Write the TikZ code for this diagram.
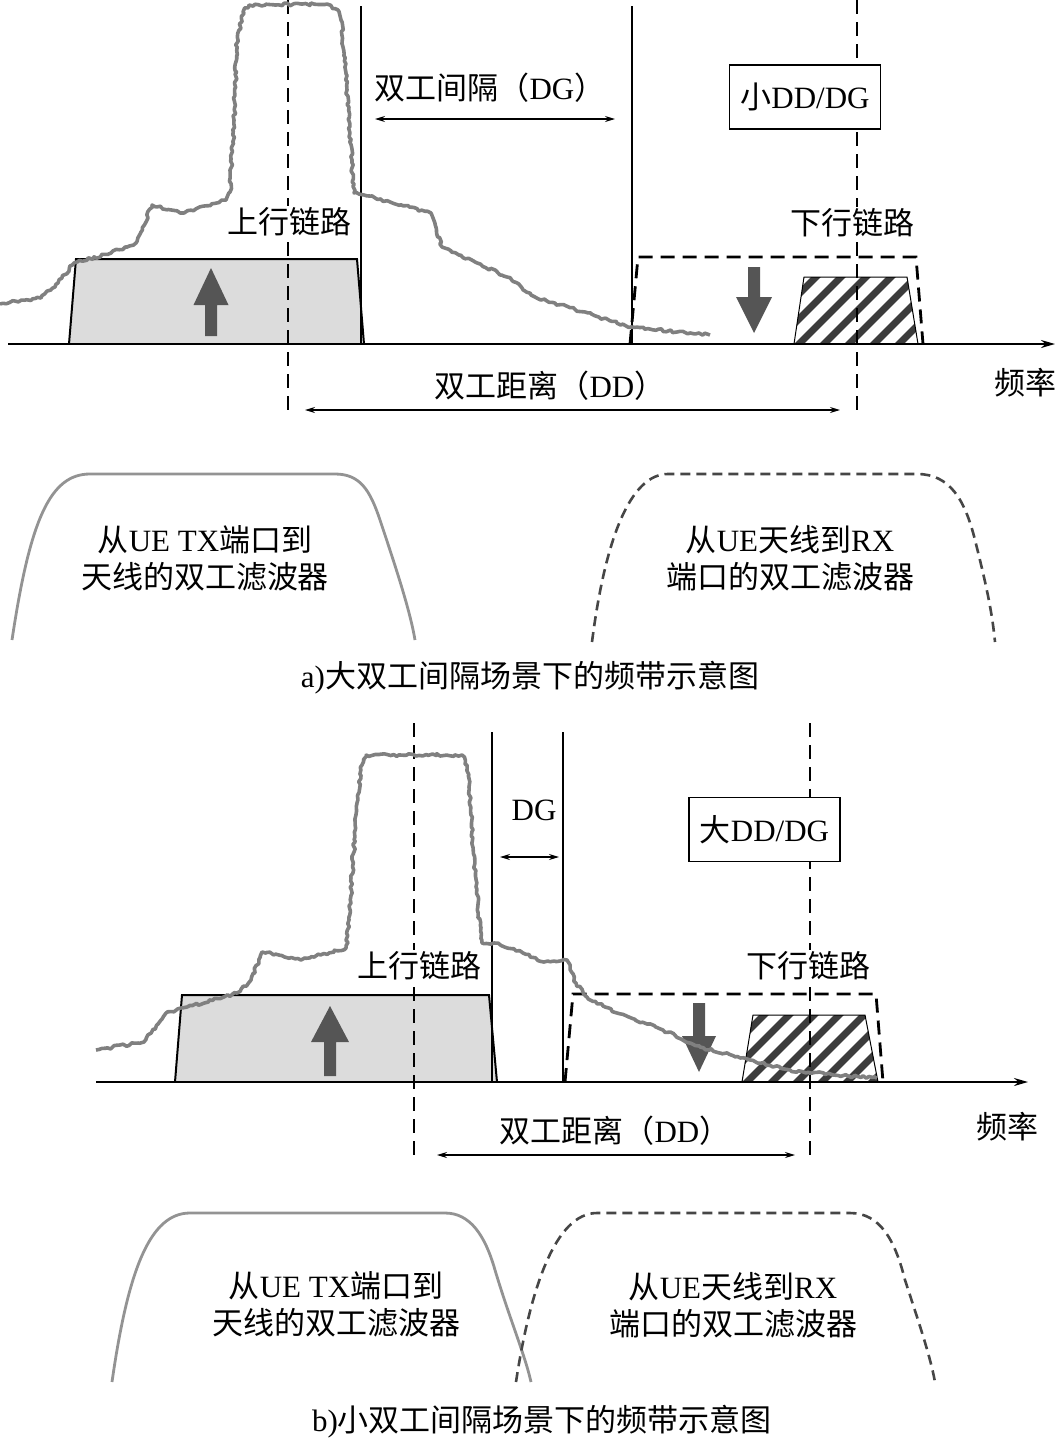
\documentclass[tikz,border=0pt]{standalone}
\usepackage{fontspec}
\setmainfont{Liberation Serif}
\newfontfamily\cjk{Noto Sans CJK SC}
\usetikzlibrary{arrows.meta,decorations.pathmorphing}
\definecolor{specgray}{RGB}{128,128,128}
\definecolor{bandgray}{RGB}{220,220,220}
\definecolor{fatgray}{RGB}{85,85,85}
\definecolor{hatchgray}{RGB}{60,60,60}
\definecolor{rxgray}{RGB}{70,70,70}

\begin{document}
\begin{tikzpicture}[x=0.5pt, y=-0.5pt,
    axis/.style={line width=1pt, -{Stealth[length=7pt, width=4pt]}},
    span/.style={line width=0.6pt, {Stealth[length=5pt, width=3pt]}-{Stealth[length=5pt, width=3pt]}},
    edgeln/.style={line width=1pt},
    centerln/.style={line width=1.2pt, dash pattern=on 7pt off 4pt},
    dlband/.style={line width=1.4pt, dash pattern=on 7pt off 4pt},
    spec/.style={specgray, line width=1.8pt, line join=round, decorate,
        decoration={random steps, segment length=1.5pt, amplitude=0.7pt}},
    txfilt/.style={specgray!85, line width=1.4pt},
    rxfilt/.style={rxgray, line width=1.3pt, dash pattern=on 5pt off 3pt},
    lbl/.style={font=\fontsize{15.5}{18.5}\selectfont, inner sep=1pt},
    cutlbl/.style={lbl, fill=white},
    ratiobox/.style={lbl, draw, line width=0.8pt, fill=white, minimum width=75.5pt, minimum height=32pt}
]
\pgfmathsetseed{7}
\useasboundingbox (0,0) rectangle (1057,1441);

% === Macro: banda rayada (enlace descendente) ===
% #1=x inf. izq., #2=x sup. izq., #3=x sup. der., #4=x inf. der., #5=y sup., #6=y base
\newcommand{\hatchband}[6]{%
    \begin{scope}
        \clip (#1,#6) -- (#2,#5) -- (#3,#5) -- (#4,#6) -- cycle;
        \foreach \k in {-4,...,6}
            \draw[hatchgray, line width=3.5pt] ({#1+\k*25},{#6+5}) -- ++(90,-90);
    \end{scope}
    \draw[line width=0.5pt] (#1,#6) -- (#2,#5) -- (#3,#5) -- (#4,#6);
}
% === Macro: flecha gruesa ===
% #1=x centro, #2=y cola, #3=y base punta, #4=y punta, #5=semi-ancho cuerpo, #6=semi-ancho punta
\newcommand{\fatarrow}[6]{%
    \fill[fatgray] ({#1-#5},#2) -- ({#1-#5},#3) -- ({#1-#6},#3) -- (#1,#4)
        -- ({#1+#6},#3) -- ({#1+#5},#3) -- ({#1+#5},#2) -- cycle;
}

% ================= a) =================
% --- bandas ---
\filldraw[fill=bandgray, line width=1pt] (69,344) -- (76,259) -- (357,259) -- (364,344);
\hatchband{794}{804}{907}{918}{277}{344}
\draw[dlband] (630,344) -- (638,257) -- (916,257) -- (923,344);
\fatarrow{211}{336}{305}{268}{6}{17.5}
\fatarrow{754}{267}{297}{333}{6}{18}

% --- lineas de referencia ---
\draw[centerln] (288,0) -- (288,410);
\draw[centerln] (857,0) -- (857,415);
\draw[edgeln] (361,6) -- (361,344);
\draw[edgeln] (632,6) -- (632,344);

% --- espectro ---
\draw[spec] (0,304) -- (41,298) -- (58,283) -- (74,263) -- (111,253) -- (136,243)
    -- (152,205) -- (184,213) -- (226,200) -- (230,192) -- (234,120) -- (237,43)
    -- (243,12) -- (249,5) -- (327,4) -- (338,10) -- (341,20) -- (347,90)
    -- (350,133) -- (354,193) -- (364,195) -- (431,213) -- (442,247) -- (507,277)
    -- (535,297) -- (631,327) -- (710,335);

\draw[axis] (8,344) -- (1055,344);
\node[lbl] (freqa) at (1025,383) {{\cjk 频率}};

% --- textos ---
\node[cutlbl] (ula) at (289,222) {{\cjk 上行链路}};
\node[cutlbl] (dla) at (852,223) {{\cjk 下行链路}};
\node[ratiobox] (boxa) at (805,97) {{\cjk 小}DD/DG};
\node[lbl] (dga) at (490,88) {{\cjk 双工间隔（}DG{\cjk ）}};
\coordinate (dga1) at (375,119);
\coordinate (dga2) at (615,119);
\draw[span] (dga1) -- (dga2);
\node[lbl] (dda) at (550,386) {{\cjk 双工距离（}DD{\cjk ）}};
\coordinate (dda1) at (305,410);
\coordinate (dda2) at (840,410);
\draw[span] (dda1) -- (dda2);

% --- filtros duplex ---
\draw[txfilt] (12,640) .. controls (30,520) and (50,474) .. (90,474) -- (335,474)
    .. controls (360,474) and (370,490) .. (380,520) .. controls (395,565) and (410,610) .. (415,640);
\draw[rxfilt] (592,642) .. controls (605,540) and (630,474) .. (668,474) -- (917,474)
    .. controls (950,474) and (965,500) .. (975,540) .. controls (985,580) and (992,610) .. (995,642);
\node[lbl, align=center] (txa) at (205,558) {{\cjk 从}UE TX{\cjk 端口到}\\{\cjk 天线的双工滤波器}};
\node[lbl, align=center] (rxa) at (790,558) {{\cjk 从}UE{\cjk 天线到}RX\\{\cjk 端口的双工滤波器}};
\node[lbl] (capa) at (530,678) {a){\cjk 大双工间隔场景下的频带示意图}};

% ================= b) =================
% --- bandas ---
\filldraw[fill=bandgray, line width=1pt] (175,1082) -- (182,995) -- (489,995) -- (497,1082);
\hatchband{742}{753}{865}{878}{1015}{1082}
\draw[dlband] (565,1082) -- (573,994) -- (876,994) -- (883,1082);
\fatarrow{330}{1076}{1042}{1006}{6}{19}
\fatarrow{699}{1003}{1036}{1072}{6}{17}

% --- lineas de referencia ---
\draw[centerln] (414,723) -- (414,1155);
\draw[centerln] (810,723) -- (810,1155);
\draw[edgeln] (492,732) -- (492,1082);
\draw[edgeln] (563,732) -- (563,1082);

% --- espectro ---
\draw[spec] (96,1050) -- (144,1042) -- (166,1013) -- (187,1007) -- (237,993)
    -- (251,980) -- (262,952) -- (301,960) -- (346,948) -- (349,920) -- (357,803)
    -- (362,765) -- (366,755) -- (462,755) -- (467,765) -- (469,787) -- (476,887)
    -- (482,943) -- (494,943) -- (523,953) -- (544,962) -- (567,960) -- (576,983)
    -- (587,997) -- (617,1013) -- (663,1030) -- (700,1047) -- (750,1060)
    -- (790,1070) -- (833,1075) -- (877,1078);

\draw[axis] (96,1082) -- (1028,1082);
\node[lbl] (freqb) at (1007,1127) {{\cjk 频率}};

% --- textos ---
\node[cutlbl] (ulb) at (419,966) {{\cjk 上行链路}};
\node[cutlbl] (dlb) at (808,966) {{\cjk 下行链路}};
\node[ratiobox] (boxb) at (764.5,829.5) {{\cjk 大}DD/DG};
\node[lbl] (dgb) at (534,810) {DG};
\coordinate (dgb1) at (500,857);
\coordinate (dgb2) at (559,857);
\draw[span] (dgb1) -- (dgb2);
\node[lbl] (ddb) at (615,1131) {{\cjk 双工距离（}DD{\cjk ）}};
\coordinate (ddb1) at (437,1155);
\coordinate (ddb2) at (795,1155);
\draw[span] (ddb1) -- (ddb2);

% --- filtros duplex ---
\draw[txfilt] (112,1382) .. controls (128,1270) and (150,1213) .. (190,1213) -- (445,1213)
    .. controls (470,1213) and (485,1235) .. (495,1270) .. controls (510,1320) and (525,1355) .. (531,1382);
\draw[rxfilt] (516,1382) .. controls (530,1290) and (555,1213) .. (597,1213) -- (850,1213)
    .. controls (880,1213) and (895,1240) .. (905,1280) .. controls (918,1320) and (930,1355) .. (935,1382);
\node[lbl, align=center] (txb) at (336,1304) {{\cjk 从}UE TX{\cjk 端口到}\\{\cjk 天线的双工滤波器}};
\node[lbl, align=center] (rxb) at (733,1305) {{\cjk 从}UE{\cjk 天线到}RX\\{\cjk 端口的双工滤波器}};
\node[lbl] (capb) at (542,1422) {b){\cjk 小双工间隔场景下的频带示意图}};
\end{tikzpicture}
\end{document}
